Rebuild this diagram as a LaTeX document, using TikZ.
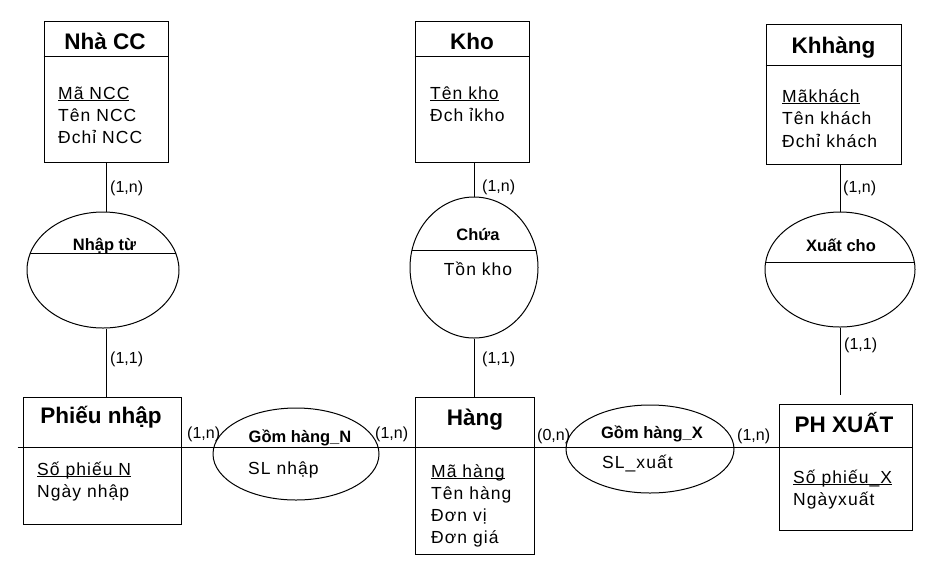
\documentclass[tikz,border=0pt]{standalone}
\usepackage{fontspec}
\setmainfont{Liberation Sans}
\newfontfamily\attfont[LetterSpace=6]{Liberation Sans}
\usetikzlibrary{shapes.geometric}
\newcommand\ulx[1]{\underline{\smash{#1}}}
\begin{document}
\begin{tikzpicture}[x=1pt,y=-1pt,
  ent/.style={draw, rectangle, inner sep=0pt, line width=1pt},
  rel/.style={draw, ellipse, inner sep=0pt, line width=1pt},
  ttl/.style={font=\fontsize{22.5}{26}\selectfont\bfseries, anchor=base, inner sep=0pt},
  rtl/.style={font=\fontsize{16.5}{19}\selectfont\bfseries, anchor=base, inner sep=0pt},
  att/.style={font=\attfont\fontsize{17.5}{22}\selectfont, anchor=base west, inner sep=0pt},
  card/.style={font=\fontsize{16}{19}\selectfont, anchor=base west, inner sep=0pt},
  conn/.style={line width=1pt},
  divider/.style={path picture={\draw[line width=1pt] ([yshift=#1]path picture bounding box.west) -- ([yshift=#1]path picture bounding box.east);}}]
\useasboundingbox (0,0) rectangle (928,566);
\fill[white] (0,0) rectangle (928,566);

% ---- entities ----
\node[ent, minimum width=124pt, minimum height=141pt] (nhacc) at (106,91.5) {};
\draw[conn] (nhacc.north west) ++(0,36) -- ++(124,0);
\node[ttl] (tnhacc) at (105,49) {Nhà CC};
\node[att] (a1) at (58,99) {\ulx{Mã NCC}};
\node[att] (a2) at (58,121) {Tên NCC};
\node[att] (a3) at (58,143) {Đchỉ NCC};

\node[ent, minimum width=114pt, minimum height=141pt] (kho) at (472,91.5) {};
\draw[conn] (kho.north west) ++(0,36) -- ++(114,0);
\node[ttl] (tkho) at (472,49) {Kho};
\node[att] (b1) at (430,99) {\ulx{Tên kho}};
\node[att] (b2) at (430,121) {Đch ỉkho};

\node[ent, minimum width=135pt, minimum height=140pt] (khh) at (833.5,94) {};
\draw[conn] (khh.north west) ++(0,42) -- ++(135,0);
\node[ttl] (tkhh) at (833.5,53) {Khhàng};
\node[att] (c1) at (782,102) {\ulx{Mãkhách}};
\node[att] (c2) at (782,124) {Tên khách};
\node[att] (c3) at (782,147) {Đchỉ khách};

\node[ent, minimum width=158pt, minimum height=127pt] (phieu) at (102,460.5) {};
\node[ttl] (tphieu) at (101,423) {Phiếu nhập};
\node[att] (d1) at (37,475) {\ulx{Số phiếu N}};
\node[att] (d2) at (37,497) {Ngày nhập};

\node[ent, minimum width=119pt, minimum height=157pt] (hang) at (474.5,475.5) {};
\node[ttl] (thang) at (475,425) {Hàng};
\node[att] (e1) at (431,477) {\ulx{Mã hàng}};
\node[att] (e2) at (431,499) {Tên hàng};
\node[att] (e3) at (431,521) {Đơn vị};
\node[att] (e4) at (431,543) {Đơn giá};

\node[ent, minimum width=133pt, minimum height=126pt] (phx) at (845.5,467) {};
\node[ttl] (tphx) at (844,432) {PH XUẤT};
\node[att] (f1) at (793,483) {\ulx{Số phiếu\_X}};
\node[att] (f2) at (793,505) {Ngàyxuất};

% ---- relationships ----
\node[rel, divider=17pt, minimum width=152pt, minimum height=116pt] (nhap) at (103,270) {};
\node[rtl] (tnhap) at (104.5,250.5) {Nhập từ};

\node[rel, divider=17.5pt, minimum width=128pt, minimum height=141pt] (chua) at (474,267.5) {};
\node[rtl] (tchua) at (478,240) {Chứa};
\node[att, anchor=base] (g1) at (478,275) {Tồn kho};

\node[rel, divider=7.5pt, minimum width=150pt, minimum height=115pt] (xuat) at (840,269.5) {};
\node[rtl] (txuat) at (841,251) {Xuất cho};

\node[rel, minimum width=166pt, minimum height=92pt] (gomn) at (296,454) {};
\node[rtl] (tgomn) at (300,442) {Gồm hàng\_N};
\node[att] (h1) at (248,474) {SL nhập};

\node[rel, minimum width=168pt, minimum height=88pt] (gomx) at (650,449) {};
\node[rtl] (tgomx) at (652,438) {Gồm hàng\_X};
\node[att] (i1) at (602,468) {SL\_xuất};

% ---- connectors ----
\coordinate (L) at (0,447);
\draw[conn] (phieu.west |- L) ++(-5,0) -- (phx.east |- L);

\draw[conn] (nhacc.south) -- (nhacc.south |- nhap.north);
\draw[conn] (nhacc.south |- nhap.south) -- (nhacc.south |- phieu.north);
\draw[conn] (chua.north |- kho.south) -- (chua.north);
\draw[conn] (chua.south) -- (chua.south |- hang.north);
\draw[conn] (xuat.north |- khh.south) -- (xuat.north);
\draw[conn, shorten >=9pt] (xuat.south) -- (xuat.south |- phx.north);

% ---- cardinalities ----
\node[card] (k1) at (110,192) {(1,n)};
\node[card] (k2) at (482,191) {(1,n)};
\node[card] (k3) at (843,192) {(1,n)};
\node[card] (k4) at (110,363) {(1,1)};
\node[card] (k5) at (482,363) {(1,1)};
\node[card] (k6) at (844,349) {(1,1)};
\node[card] (k7) at (187,438) {(1,n)};
\node[card] (k8) at (375,438) {(1,n)};
\node[card] (k9) at (537,440) {(0,n)};
\node[card] (k10) at (737,440) {(1,n)};
\end{tikzpicture}
\end{document}
